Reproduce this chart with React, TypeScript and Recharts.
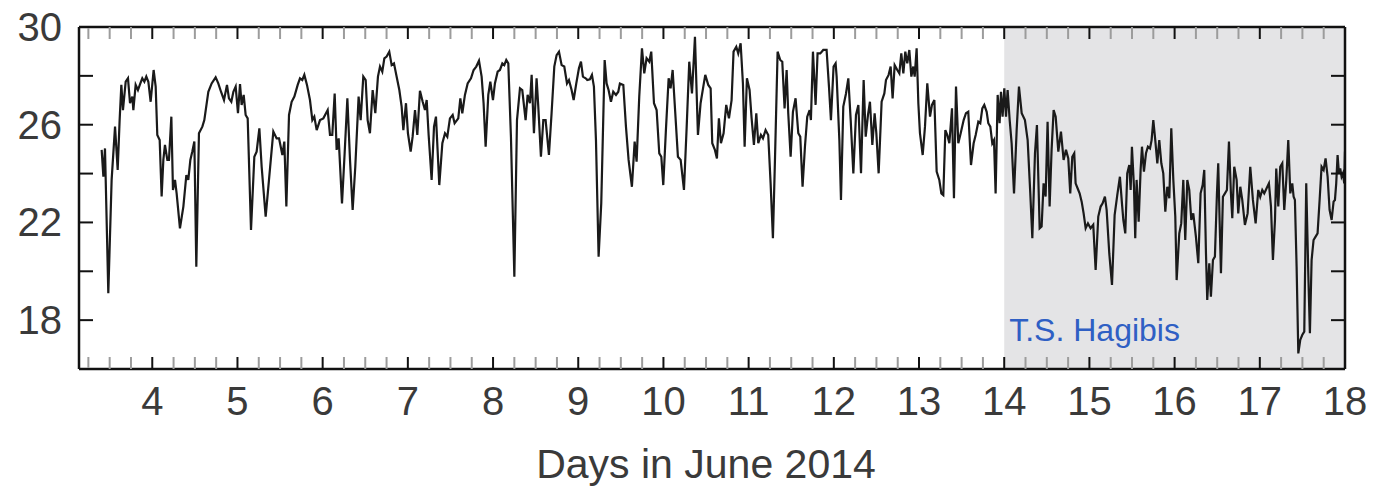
import { LineChart, Line, XAxis, YAxis, ReferenceArea } from 'recharts'

// Temperature trace, [day of June 2014, value]
const june3to4 = [
  [3.406, 24.97], [3.426, 23.87], [3.445, 25.03], [3.484, 19.1], [3.523, 23.74],
  [3.563, 25.92], [3.594, 24.15], [3.617, 26.19], [3.637, 27.63], [3.656, 26.6],
  [3.688, 27.76], [3.715, 27.9], [3.739, 26.88], [3.766, 27.15], [3.778, 26.6],
  [3.805, 27.63], [3.832, 27.42], [3.86, 27.69], [3.883, 27.9], [3.907, 27.76],
  [3.93, 27.97], [3.954, 27.76], [3.981, 26.94], [4.016, 28.24], [4.04, 27.56],
  [4.059, 25.58], [4.087, 25.37], [4.11, 23.06], [4.13, 24.56], [4.149, 25.17],
  [4.177, 24.56], [4.196, 24.56], [4.224, 26.33], [4.243, 23.33], [4.267, 23.74],
  [4.286, 23.19], [4.325, 21.76], [4.365, 22.65], [4.4, 23.94], [4.423, 23.74],
  [4.447, 24.56], [4.47, 24.9], [4.494, 25.31], [4.517, 20.19], [4.548, 25.65],
  [4.588, 25.92], [4.611, 26.19],
]

const june4to6 = [
  [4.658, 27.35], [4.697, 27.69], [4.744, 27.94], [4.775, 27.69], [4.807, 27.35],
  [4.842, 27.01], [4.877, 27.63], [4.9, 27.08], [4.928, 26.94], [4.952, 27.35],
  [4.979, 27.56], [5.006, 26.47], [5.03, 27.66], [5.049, 26.81], [5.073, 27.22],
  [5.096, 26.4], [5.12, 26.26], [5.159, 21.69], [5.198, 24.69], [5.225, 24.9],
  [5.257, 25.85], [5.284, 24.28], [5.331, 22.24], [5.37, 23.74], [5.421, 25.72],
  [5.46, 25.44], [5.488, 25.44], [5.527, 24.76], [5.55, 25.31], [5.574, 22.65],
  [5.605, 26.4], [5.636, 26.94], [5.668, 27.15], [5.707, 27.63], [5.734, 27.9],
  [5.761, 27.83], [5.785, 28.04], [5.816, 27.63], [5.851, 27.01], [5.879, 26.19],
  [5.902, 26.33], [5.93, 25.78], [5.969, 26.19], [6.008, 26.26], [6.059, 26.6],
  [6.086, 25.58], [6.113, 25.58],
]

const june6to7 = [
  [6.141, 27.28], [6.164, 24.97], [6.188, 25.44], [6.227, 22.78], [6.258, 24.83],
  [6.29, 27.08], [6.321, 24.56], [6.352, 22.51], [6.383, 24.28], [6.422, 27.15],
  [6.446, 26.19], [6.477, 27.97], [6.505, 27.83], [6.528, 26.19], [6.555, 25.65],
  [6.587, 27.42], [6.618, 26.47], [6.649, 27.97], [6.673, 28.38], [6.7, 28.17],
  [6.724, 28.72], [6.751, 28.79], [6.782, 28.99], [6.81, 28.44], [6.837, 28.51],
  [6.868, 27.97], [6.9, 27.42], [6.927, 26.74], [6.947, 25.78], [6.978, 26.88],
  [7.001, 25.65], [7.033, 24.9], [7.056, 25.51], [7.084, 26.6], [7.111, 25.58],
  [7.142, 27.39], [7.174, 26.94], [7.201, 26.6], [7.221, 27.01], [7.244, 25.58],
  [7.279, 23.74], [7.307, 25.92], [7.33, 26.33], [7.369, 23.53], [7.405, 25.24],
  [7.436, 25.65], [7.463, 25.51], [7.494, 26.26], [7.526, 26.4], [7.549, 26.06],
  [7.592, 26.26],
]

const june7to9 = [
  [7.616, 27.08], [7.639, 26.47], [7.67, 27.22], [7.702, 27.69], [7.741, 27.9],
  [7.772, 28.24], [7.803, 28.38], [7.835, 28.62], [7.866, 27.97], [7.889, 26.88],
  [7.913, 25.1], [7.944, 27.22], [7.968, 27.76], [7.999, 27.01], [8.022, 27.69],
  [8.054, 28.17], [8.081, 28.24], [8.109, 28.51], [8.132, 28.44], [8.155, 28.65],
  [8.179, 28.51], [8.21, 25.51], [8.25, 19.78], [8.281, 26.19], [8.316, 27.49],
  [8.343, 27.42], [8.382, 26.19], [8.406, 27.22], [8.433, 26.88], [8.453, 28.04],
  [8.48, 25.65], [8.511, 27.9], [8.531, 26.74], [8.562, 24.69], [8.59, 26.19],
  [8.617, 26.19], [8.656, 24.76], [8.687, 26.47], [8.719, 28.38], [8.746, 28.85],
  [8.774, 28.99], [8.805, 28.44], [8.836, 28.38], [8.868, 27.69], [8.891, 27.83],
  [8.922, 27.42], [8.946, 27.01], [8.977, 27.69], [9.008, 28.31], [9.032, 28.58],
  [9.055, 27.97], [9.087, 27.9],
]

const june9to10 = [
  [9.106, 27.83], [9.137, 27.86], [9.161, 28.04], [9.184, 27.56], [9.208, 25.37],
  [9.239, 20.6], [9.27, 22.78], [9.31, 28.65], [9.333, 27.69], [9.356, 27.42],
  [9.384, 26.94], [9.411, 27.35], [9.443, 27.22], [9.47, 27.35], [9.489, 27.69],
  [9.529, 27.63], [9.56, 25.92], [9.591, 24.56], [9.63, 23.46], [9.662, 25.31],
  [9.685, 24.49], [9.716, 27.15], [9.748, 29.13], [9.775, 28.1], [9.802, 28.72],
  [9.834, 28.58], [9.857, 28.99], [9.889, 26.88], [9.92, 26.6], [9.951, 24.83],
  [9.975, 24.69], [9.998, 23.53], [10.029, 25.78], [10.061, 27.9], [10.084, 27.49],
  [10.108, 28.24], [10.139, 26.47], [10.17, 24.69], [10.202, 24.56], [10.241, 23.33],
  [10.272, 25.85], [10.303, 28.58], [10.335, 27.28], [10.37, 29.6], [10.405, 25.58],
  [10.436, 26.88], [10.468, 27.56], [10.491, 28.04], [10.526, 27.63], [10.554, 27.49],
]

const june10to12 = [
  [10.573, 25.24], [10.604, 24.97], [10.628, 24.62], [10.651, 26.26], [10.675, 25.24],
  [10.706, 25.65], [10.737, 26.81], [10.769, 26.26], [10.8, 27.01], [10.823, 28.99],
  [10.855, 29.19], [10.878, 28.92], [10.906, 29.33], [10.933, 27.69], [10.953, 25.1],
  [10.98, 27.9], [11.011, 27.42], [11.035, 26.26], [11.062, 25.17], [11.09, 26.47],
  [11.113, 25.24], [11.144, 25.58], [11.168, 25.44], [11.199, 25.78], [11.23, 25.58],
  [11.258, 23.6], [11.285, 21.35], [11.309, 24.56], [11.34, 28.99], [11.371, 28.65],
  [11.395, 28.58], [11.422, 26.67], [11.446, 28.24], [11.465, 26.47], [11.493, 24.69],
  [11.52, 26.53], [11.551, 27.08], [11.583, 25.65], [11.606, 25.51], [11.633, 23.46],
  [11.661, 25.1], [11.688, 26.33], [11.716, 26.6], [11.731, 26.19], [11.755, 28.99],
  [11.786, 26.81], [11.809, 28.92], [11.841, 28.92], [11.876, 29.06], [11.915, 29.06],
  [11.943, 27.56], [11.966, 26.19], [11.997, 28.38], [12.021, 28.51],
]

const june12to13 = [
  [12.033, 27.97], [12.065, 25.37], [12.084, 22.92], [12.111, 26.74], [12.143, 27.28],
  [12.17, 27.9], [12.198, 26.19], [12.229, 24.01], [12.26, 26.4], [12.288, 26.81],
  [12.319, 24.01], [12.35, 27.83], [12.374, 25.51], [12.401, 26.4], [12.424, 26.94],
  [12.452, 25.17], [12.479, 26.47], [12.499, 25.65], [12.526, 24.01], [12.561, 26.94],
  [12.593, 27.28], [12.612, 27.83], [12.643, 28.04], [12.667, 28.38], [12.69, 27.08],
  [12.714, 28.44], [12.745, 28.24], [12.769, 28.1], [12.792, 28.92], [12.816, 28.1],
  [12.839, 28.99], [12.862, 28.51], [12.886, 29.06], [12.91, 27.97], [12.933, 28.38],
  [12.949, 27.97], [12.972, 29.13], [12.992, 26.88], [13.011, 25.65], [13.043, 24.76],
  [13.07, 25.92], [13.097, 27.69], [13.129, 26.33], [13.152, 26.81], [13.18, 27.01],
  [13.207, 24.08], [13.238, 23.74], [13.262, 23.19], [13.285, 23.12], [13.309, 25.78],
  [13.332, 25.58], [13.356, 25.24], [13.387, 26.67], [13.41, 22.99], [13.434, 27.56],
  [13.461, 25.24], [13.489, 25.65],
]

const june13to15 = [
  [13.524, 26.19], [13.551, 26.47], [13.578, 26.53], [13.61, 24.35], [13.641, 25.24],
  [13.665, 25.58], [13.696, 26.12], [13.719, 26.06], [13.743, 26.67], [13.766, 26.81],
  [13.794, 26.53], [13.813, 26.06], [13.837, 25.92], [13.86, 25.24], [13.88, 25.37],
  [13.899, 23.19], [13.923, 27.22], [13.946, 26.06], [13.962, 27.35], [13.981, 26.33],
  [14.001, 27.49], [14.021, 26.33], [14.04, 27.42], [14.064, 26.19], [14.087, 25.24],
  [14.115, 23.19], [14.146, 25.78], [14.173, 27.56], [14.205, 26.47], [14.243, 26.19],
  [14.275, 25.37], [14.306, 23.19], [14.33, 21.35], [14.361, 24.83], [14.384, 25.99],
  [14.416, 21.76], [14.439, 21.83], [14.462, 23.6], [14.486, 23.06], [14.509, 26.12],
  [14.533, 22.65], [14.556, 24.97], [14.58, 26.6], [14.604, 26.33], [14.635, 24.9],
  [14.666, 25.72], [14.697, 24.56], [14.725, 24.97], [14.752, 24.62], [14.775, 23.19],
  [14.799, 24.69], [14.822, 24.83], [14.838, 23.6], [14.861, 23.4], [14.885, 23.19],
  [14.909, 22.85], [14.932, 22.37], [14.956, 21.76],
]

const june15to16 = [
  [14.983, 21.96], [15.014, 21.76], [15.045, 21.9], [15.073, 20.05], [15.104, 22.24],
  [15.132, 22.65], [15.155, 22.78], [15.182, 23.06], [15.202, 22.51], [15.233, 20.74],
  [15.265, 19.44], [15.296, 22.3], [15.327, 23.12], [15.358, 23.87], [15.382, 22.78],
  [15.398, 22.1], [15.421, 21.55], [15.444, 24.01], [15.468, 24.35], [15.484, 23.33],
  [15.499, 25.1], [15.523, 23.46], [15.538, 21.35], [15.554, 23.74], [15.578, 22.03],
  [15.601, 24.15], [15.617, 25.1], [15.64, 24.08], [15.664, 24.83], [15.687, 25.1],
  [15.711, 25.03], [15.73, 25.37], [15.75, 26.19], [15.773, 25.37], [15.797, 24.42],
  [15.82, 25.37], [15.844, 24.42], [15.867, 24.01], [15.891, 22.44], [15.914, 23.46],
  [15.938, 22.99], [15.961, 25.85], [15.985, 23.74], [16.008, 22.24], [16.024, 19.64],
  [16.055, 21.55], [16.078, 21.96], [16.102, 23.74], [16.125, 21.28], [16.149, 23.74],
  [16.172, 23.33], [16.196, 22.1], [16.219, 22.37], [16.25, 21.42], [16.278, 20.33],
  [16.305, 23.19], [16.329, 23.53], [16.348, 24.15], [16.368, 20.74], [16.383, 18.83],
  [16.407, 20.33],
]

const june16to18 = [
  [16.426, 18.96], [16.45, 20.46], [16.473, 20.6], [16.497, 23.19], [16.512, 24.42],
  [16.528, 22.1], [16.544, 19.92], [16.567, 23.05], [16.591, 23.19], [16.614, 23.33],
  [16.638, 25.31], [16.661, 23.19], [16.677, 22.17], [16.7, 24.28], [16.728, 23.74],
  [16.747, 22.37], [16.771, 23.46], [16.794, 22.92], [16.825, 21.9], [16.857, 22.37],
  [16.888, 24.28], [16.919, 22.92], [16.951, 21.96], [16.982, 23.33], [17.005, 23.05],
  [17.029, 23.33], [17.052, 23.19], [17.08, 23.4], [17.107, 23.6], [17.131, 22.65],
  [17.154, 20.46], [17.178, 22.1], [17.193, 24.21], [17.217, 22.65], [17.24, 24.28],
  [17.264, 24.42], [17.287, 22.51], [17.311, 23.74], [17.334, 25.37], [17.358, 23.19],
  [17.381, 23.6], [17.397, 23.05], [17.412, 22.92], [17.432, 20.19], [17.452, 16.64],
  [17.475, 17.19], [17.498, 17.39], [17.522, 17.53], [17.545, 23.6], [17.569, 19.92],
  [17.588, 17.46], [17.608, 20.46], [17.631, 21.28], [17.655, 21.42], [17.678, 21.55],
  [17.702, 22.92], [17.725, 24.28], [17.749, 24.15], [17.772, 24.62], [17.796, 23.87],
  [17.819, 22.51], [17.843, 22.1], [17.866, 22.85], [17.882, 22.92], [17.897, 23.6],
  [17.913, 24.76], [17.929, 24.01], [17.944, 24.21], [17.96, 23.87], [17.976, 24.01],
  [17.991, 23.6], [18.0, 24.9],
]

const dayLabels = [4, 5, 6, 7, 8, 9, 10, 11, 12, 13, 14, 15, 16, 17, 18]
const tempTicks = [16, 18, 20, 22, 24, 26, 28, 30]
const tempLabels = [18, 22, 26, 30]
const stormStart = 14
const stormName = 'T.S. Hagibis'

const data = [
  ...june3to4, ...june4to6, ...june6to7, ...june7to9, ...june9to10,
  ...june10to12, ...june12to13, ...june13to15, ...june15to16, ...june16to18,
].map(([day, temp]) => ({ day, temp }))

// quarter-day ticks, 3.25 .. 18
const quarterTicks: number[] = []
for (let d = 3; d < 18; d++) {
  for (const q of [0.25, 0.5, 0.75, 1]) quarterTicks.push(d + q)
}

const W = 1383
const H = 490
const DAY_DOMAIN = [3.14, 18]
const TEMP_DOMAIN = [16, 30]
const FONT = '"Liberation Sans", Arial, Helvetica, sans-serif'
const TEXT = '#3a3a3a'

// ticks point inwards; the label sits outside the frame
const XTick = ({ x, y, payload, top }: any) => {
  const v = payload.value
  const major = dayLabels.includes(v)
  const dir = top ? 1 : -1
  return (
    <g>
      <line x1={x} x2={x} y1={y} y2={y + dir * 12} stroke={major ? '#111' : '#9c9c9c'} strokeWidth={2} />
      {major && !top && (
        <text x={x} y={y + 46} textAnchor="middle" fontSize={40} fontFamily={FONT} fill={TEXT}>
          {v}
        </text>
      )}
    </g>
  )
}

const YTick = ({ x, y, payload, right }: any) => {
  const v = payload.value
  const dir = right ? -1 : 1
  return (
    <g>
      <line x1={x} x2={x + dir * 14} y1={y} y2={y} stroke="#111" strokeWidth={2} />
      {!right && tempLabels.includes(v) && (
        <text x={x - 17} y={y} dy={14} textAnchor="end" fontSize={40} fontFamily={FONT} fill={TEXT}>
          {v}
        </text>
      )}
    </g>
  )
}

const axisLine = { stroke: '#111', strokeWidth: 2.5 }

// storm shading sits in its own chart underneath, so ticks and trace stay on top
function StormLayer() {
  return (
    <LineChart width={W} height={H} data={data} margin={{ top: 27, right: 38, bottom: 121, left: 79 }}>
      <XAxis dataKey="day" type="number" domain={DAY_DOMAIN} allowDataOverflow hide />
      <YAxis type="number" domain={TEMP_DOMAIN} allowDataOverflow hide />
      <ReferenceArea
        x1={stormStart}
        x2={18}
        fill="#e4e4e6"
        fillOpacity={1}
        stroke="none"
        label={(p: any) => (
          <text
            x={p.viewBox.x + 5}
            y={p.viewBox.y + p.viewBox.height - 28}
            fontSize={32}
            fontFamily={FONT}
            fill="#2f5fc4"
          >
            {stormName}
          </text>
        )}
      />
    </LineChart>
  )
}

function TraceLayer() {
  return (
    <LineChart width={W} height={H} data={data} margin={{ top: 0, right: 0, bottom: 0, left: 0 }}>
      <XAxis
        dataKey="day"
        type="number"
        domain={DAY_DOMAIN}
        allowDataOverflow
        ticks={quarterTicks}
        interval={0}
        height={121}
        tickSize={0}
        tickMargin={0}
        tickLine={false}
        axisLine={axisLine}
        tick={<XTick />}
      />
      <XAxis
        xAxisId="top"
        orientation="top"
        dataKey="day"
        type="number"
        domain={DAY_DOMAIN}
        allowDataOverflow
        ticks={quarterTicks}
        interval={0}
        height={27}
        tickSize={0}
        tickMargin={0}
        tickLine={false}
        axisLine={axisLine}
        tick={<XTick top />}
      />
      <YAxis
        type="number"
        domain={TEMP_DOMAIN}
        allowDataOverflow
        ticks={tempTicks}
        interval={0}
        width={79}
        tickSize={0}
        tickMargin={0}
        tickLine={false}
        axisLine={axisLine}
        tick={<YTick />}
      />
      <YAxis
        yAxisId="right"
        orientation="right"
        type="number"
        domain={TEMP_DOMAIN}
        allowDataOverflow
        ticks={tempTicks}
        interval={0}
        width={38}
        tickSize={0}
        tickMargin={0}
        tickLine={false}
        axisLine={axisLine}
        tick={<YTick right />}
      />
      {/* invisible twin so the top and right axes get a real scale */}
      <Line
        xAxisId="top"
        yAxisId="right"
        dataKey="temp"
        stroke="none"
        dot={false}
        activeDot={false}
        isAnimationActive={false}
      />
      <Line
        type="linear"
        dataKey="temp"
        stroke="#1a1a1a"
        strokeWidth={2.2}
        dot={false}
        isAnimationActive={false}
      />
    </LineChart>
  )
}

export default function App() {
  return (
    <div style={{ position: 'absolute', left: 0, top: 0, width: W, height: H, background: '#fff' }}>
      <div style={{ position: 'absolute', left: 0, top: 0 }}>
        <StormLayer />
      </div>
      <div style={{ position: 'absolute', left: 0, top: 0 }}>
        <TraceLayer />
      </div>
      <div
        style={{
          position: 'absolute',
          left: 0,
          top: 440,
          width: 1412,
          textAlign: 'center',
          fontFamily: FONT,
          fontSize: 41,
          color: TEXT,
          lineHeight: '48px',
        }}
      >
        Days in June 2014
      </div>
    </div>
  )
}
